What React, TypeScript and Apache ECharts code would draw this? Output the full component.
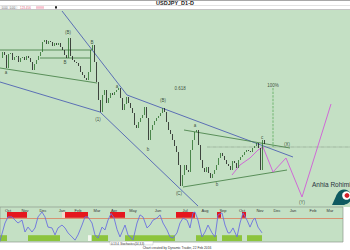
import { useEffect, useRef } from 'react';
import * as echarts from 'echarts';

// daily closes (one slot per 2px bar)
const closes: number[] = [
  124.2, 124.8, 124.5, 123.2, 124.6, 124.7, 124.0, 124.3, 124.4, 123.8,
  124.2, 124.3, 124.0, 124.4, 124.2, 123.8, 123.0, 123.6, 124.0, 124.4,
  124.8, 125.8, 126.0, 125.6, 125.9, 125.8, 125.4, 125.7, 125.5, 125.7,
  125.3, 125.0, 124.5, 124.2, 126.2, 124.4, 124.0, 123.8, 123.7, 123.4,
  122.8, 122.5, 122.2, 122.0, 122.8, 125.0, 125.5, 123.8, 121.8, 120.0,
  118.8, 120.5, 121.0, 119.7, 120.2, 120.7, 120.5, 120.8, 121.0, 121.2,
  120.2, 119.0, 119.6, 120.3, 119.7, 119.2, 118.7, 117.5, 117.2, 117.8,
  118.2, 118.5, 119.3, 118.2, 116.0, 117.0, 117.5, 117.9, 118.2, 118.4,
  118.7, 119.2, 118.8, 117.8, 117.0, 116.6, 116.0, 115.4, 114.8, 113.5,
  111.4, 112.5, 113.5, 113.0, 112.8, 115.0, 116.0, 116.8, 117.0, 115.5,
  114.0, 113.2, 112.8, 113.3, 112.7, 112.2, 112.6, 113.0, 113.5, 114.2,
  114.7, 114.4, 114.0, 113.6, 113.4, 113.0, 113.9, 113.7, 113.2, 114.0,
  114.3, 114.5, 114.8, 115.0, 114.9, 114.8, 115.2, 115.4, 115.7, 115.2,
  113.0, 116.0, 115.6,
];
const SLOTS = 175;

const monthNames = ['Oct', 'Nov', 'Dec', 'Jan', 'Feb', 'Mar', 'Apr', 'May', 'Jun', 'Jul', 'Aug', 'Sep', 'Oct', 'Nov', 'Dec', 'Jan', 'Feb', 'Mar'];
const monthPos = [4, 12.5, 21.5, 31, 39, 48.5, 57, 66.5, 79, 92.5, 102.5, 111.5, 121, 130, 138.5, 146.5, 156.5, 165];

// trend lines [slot, price]
const blueUpper = [[31, 128.9], [63.5, 120.5], [146.5, 114.3]];
const blueLower1 = [[0, 121.8], [50, 118.8]];
const blueLower2 = [[50, 118.8], [99, 109.4]];
const greenTop = [[0, 125.0], [46, 125.0]];
const greenMid = [[20, 124.2], [45, 124.2]];
const greenLow = [[0, 123.2], [48.5, 121.7]];
const greenRightUp = [[92, 117.0], [145, 115.2]];
const greenRightLow = [[91.5, 111.3], [143.5, 113.0]];
const greyLevel = [[103.5, 115.3], [175, 115.3]];
const targetVert = [[136.5, 121.2], [136.5, 115.3]];
const projection = [[116, 112.5], [120, 113.5], [125, 114.2], [129, 115.0], [131.5, 115.3], [136.5, 112.8], [143, 114.2], [151, 110.3], [165.5, 119.6]];

const waveLabels: [number, number, string][] = [
  [3, 122.8, 'a'], [34, 126.8, '(B)'], [32.5, 123.8, 'B'], [46, 125.8, 'B'],
  [49, 118.1, '(1)'], [58.5, 121.4, 'a'], [74, 115.1, 'b'], [81.5, 120.0, '(B)'],
  [89.5, 110.7, '(C)'], [97.5, 117.5, 'a'], [108.5, 111.6, 'b'], [131, 116.3, 'c'],
  [143.5, 115.6, '(X)'], [151, 109.8, '(Y)'], [136.5, 121.5, '100%'], [90, 121.2, '0.618'],
];

// stochastic [slot, value]
const stoch = [
  [0, 0], [2.5, 62], [4, 83], [6, 83], [7.5, 72], [9, 62], [11, 72], [12.5, 31], [14, 48], [16, 31],
  [17.5, 45], [19, 83], [21, 100], [22.5, 83], [24, 48], [26, 45], [27.5, 21], [29, 45], [31, 55], [32.5, 45],
  [34, 28], [36, 14], [37.5, 3], [39, 21], [41, 55], [42.5, 83], [44, 83], [46, 62], [47.5, 21], [49, 10],
  [51, 48], [52.5, 38], [54, 72], [55.5, 95], [57, 80], [58.5, 40], [60, 14], [62.5, 55], [64, 21], [66.5, 3],
  [68.5, 62], [70, 90], [71.5, 83], [73.5, 45], [75, 55], [76.5, 72], [78.5, 79], [80, 90], [81.5, 62], [83.5, 38],
  [85, 14], [86.5, 10], [88.5, 28], [90, 62], [91.5, 79], [93.5, 72], [95, 45], [96.5, 97], [97.5, 100], [99, 72],
  [101, 14], [102.5, 31], [104, 55], [106, 28], [107.5, 14], [109, 90], [111, 97], [112.5, 55], [114, 28], [115, 28],
  [116.5, 45], [118.5, 14], [120, 62], [121.5, 97], [123.5, 72], [125, 48], [126.5, 72], [127.5, 79], [129, 48], [131, 28],
];
const redZones = [[3.5, 13.5], [32.5, 44], [55, 62.5], [88, 97.5], [108.5, 110.5], [121, 123]];
const greenZones = [[0, 3.5], [14, 30], [46, 54], [62.5, 87.5], [98, 108.5], [111, 121], [123.5, 131]];

const GREEN_BG = '#c4e0c4';
const FONT = 'Liberation Sans, Arial, sans-serif';

export default function App() {
  const ref = useRef<HTMLDivElement>(null);
  useEffect(() => {
    if (!ref.current) return;
    const chart = echarts.init(ref.current, undefined, { renderer: 'svg' });
    const cats = Array.from({ length: SLOTS }, (_, i) => String(i));
    const candles = closes.map((c, i) => {
      const o = i === 0 ? c : closes[i - 1];
      return [o, c, Math.min(o, c), Math.max(o, c)];
    });
    const lineSeries = (data: number[][], color: string, width: number, type: string = 'solid') => ({
      type: 'line', xAxisIndex: 1, yAxisIndex: 0, data, symbol: 'none', silent: true,
      lineStyle: { color, width, type }, z: 3,
    });
    const markAreas = [
      ...redZones.map(([a, b]) => [{ xAxis: a, yAxis: 80, itemStyle: { color: '#e5161e' } }, { xAxis: b, yAxis: 100 }]),
      ...greenZones.map(([a, b]) => [{ xAxis: a, yAxis: 0, itemStyle: { color: '#8cc43c' } }, { xAxis: b, yAxis: 20 }]),
      [{ xAxis: 31, yAxis: 80, itemStyle: { color: '#f6d8cc' } }, { xAxis: 32.5, yAxis: 100 }],
      [{ xAxis: 44, yAxis: 0, itemStyle: { color: '#f4f8f0' } }, { xAxis: 45.5, yAxis: 20 }],
    ];
    chart.setOption({
      animation: false,
      backgroundColor: '#ffffff',
      textStyle: { fontFamily: FONT },
      grid: [
        { left: 0, top: 10, width: 350, height: 197, show: true, backgroundColor: GREEN_BG, borderWidth: 0 },
        { left: 0, top: 207, width: 343, height: 35, show: true, backgroundColor: GREEN_BG, borderColor: '#8c9a8c', borderWidth: 0.7 },
      ],
      xAxis: [
        { type: 'category', gridIndex: 0, data: cats, show: false, boundaryGap: true },
        {
          type: 'value', gridIndex: 0, min: 0, max: SLOTS, position: 'bottom',
          axisLine: { show: false }, axisTick: { show: false }, splitLine: { show: false },
          axisLabel: {
            customValues: monthPos, margin: 1, fontSize: 4, color: '#333',
            formatter: (v: number) => monthNames[monthPos.indexOf(v)] ?? '',
            showMinLabel: true, showMaxLabel: true,
          },
        },
        { type: 'value', gridIndex: 1, min: 0, max: 171.5, show: false },
      ],
      yAxis: [
        { type: 'value', gridIndex: 0, min: 109.3, max: 129, show: false, scale: true },
        { type: 'value', gridIndex: 1, min: -3.45, max: 117.24, show: false },
      ],
      series: [
        {
          type: 'candlestick', xAxisIndex: 0, yAxisIndex: 0, data: candles, barMaxWidth: 1.6,
          itemStyle: { color: '#2b6e2b', color0: '#1c1c1c', borderColor: '#2b6e2b', borderColor0: '#1c1c1c', borderWidth: 0.8 },
          z: 4,
        },
        lineSeries(blueUpper, '#5b6fb5', 1),
        lineSeries(blueLower1, '#5b6fb5', 1),
        lineSeries(blueLower2, '#5b6fb5', 1),
        lineSeries(greenTop, '#3d7a3d', 0.8),
        lineSeries(greenMid, '#3d7a3d', 0.8),
        lineSeries(greenLow, '#3d7a3d', 0.8),
        lineSeries(greenRightUp, '#3d7a3d', 0.8),
        lineSeries(greenRightLow, '#3d7a3d', 0.8),
        lineSeries(greyLevel, '#5f6f5f', 0.6, 'dotted'),
        lineSeries(targetVert, '#3a9a3a', 0.6, 'dashed'),
        lineSeries(projection, '#d06ad6', 1),
        {
          type: 'scatter', xAxisIndex: 1, yAxisIndex: 0, symbolSize: 1, clip: false, silent: true,
          itemStyle: { color: 'rgba(0,0,0,0)' }, z: 6,
          data: waveLabels.map(([x, y, t]) => ({ value: [x, y], name: t })),
          label: { show: true, position: 'inside', formatter: '{b}', fontSize: 4.5, color: '#142814', fontFamily: FONT },
        },
        {
          type: 'line', xAxisIndex: 2, yAxisIndex: 1, data: stoch, symbol: 'none', silent: true,
          lineStyle: { color: '#6b70e0', width: 0.9 }, z: 5,
          markArea: { silent: true, data: markAreas },
          markLine: {
            silent: true, symbol: 'none', label: { show: false },
            lineStyle: { color: '#e0603c', width: 0.6, type: 'solid' },
            data: [{ yAxis: 80 }],
          },
        },
      ],
      graphic: [
        { type: 'rect', shape: { x: 0, y: 0, width: 350, height: 1 }, style: { fill: '#a8a8a8' } },
        { type: 'rect', shape: { x: 0, y: 5.3, width: 350, height: 0.8 }, style: { fill: '#d8d8d8' } },
        { type: 'rect', shape: { x: 0, y: 9, width: 350, height: 1 }, style: { fill: '#c4c4c4' } },
        { type: 'text', x: 175, y: 3.2, style: { text: 'USDJPY_D1-D', fontSize: 5.5, fontWeight: 'bold', fill: '#222', align: 'center', verticalAlign: 'middle', fontFamily: FONT } },
        { type: 'rect', shape: { x: 1, y: 6.2, width: 16, height: 2.6 }, style: { fill: '#fff', stroke: '#bbb', lineWidth: 0.3 } },
        { type: 'text', x: 2, y: 7.5, style: { text: '0.00   0.00', fontSize: 2.8, fill: '#666', verticalAlign: 'middle', fontFamily: FONT } },
        { type: 'text', x: 20, y: 7.5, style: { text: '123.456', fontSize: 3, fill: '#e0607e', verticalAlign: 'middle', fontFamily: FONT } },
        { type: 'rect', shape: { x: 36, y: 6.2, width: 8, height: 2.6 }, style: { fill: '#f6c2cf' } },
        { type: 'rect', shape: { x: 55, y: 6.3, width: 2, height: 2.2 }, style: { fill: '#222' } },
        { type: 'rect', shape: { x: 110, y: 241.3, width: 43, height: 3.6 }, style: { fill: '#fff', stroke: '#999', lineWidth: 0.3 } },
        { type: 'text', x: 111, y: 243.1, style: { text: '0.13 4  Stochastics(14,3,3)', fontSize: 2.8, fill: '#333', verticalAlign: 'middle', fontFamily: FONT } },
        { type: 'text', x: 177, y: 247.5, style: { text: 'Chart created by Dynamic Trader, 22 Feb 2016', fontSize: 3.3, fill: '#333', align: 'center', verticalAlign: 'middle', fontFamily: FONT } },
        { type: 'text', x: 312, y: 184, style: { text: 'Anhia Rohimi', fontSize: 6.5, fill: '#28333d', verticalAlign: 'middle', fontFamily: FONT } },
        { type: 'polygon', shape: { points: [[332, 205], [337, 194], [345, 205]] }, style: { fill: '#0e5a60' } },
        { type: 'circle', shape: { cx: 344, cy: 197, r: 7.5 }, style: { fill: '#0e5a60' } },
        { type: 'circle', shape: { cx: 346.5, cy: 195.5, r: 4.3 }, style: { fill: '#ffffff' } },
        { type: 'circle', shape: { cx: 347, cy: 195.5, r: 2.4 }, style: { fill: '#d11f2a' } },
      ],
    });
    return () => chart.dispose();
  }, []);
  return <div ref={ref} style={{ position: 'fixed', left: 0, top: 0, width: 350, height: 250 }} />;
}
